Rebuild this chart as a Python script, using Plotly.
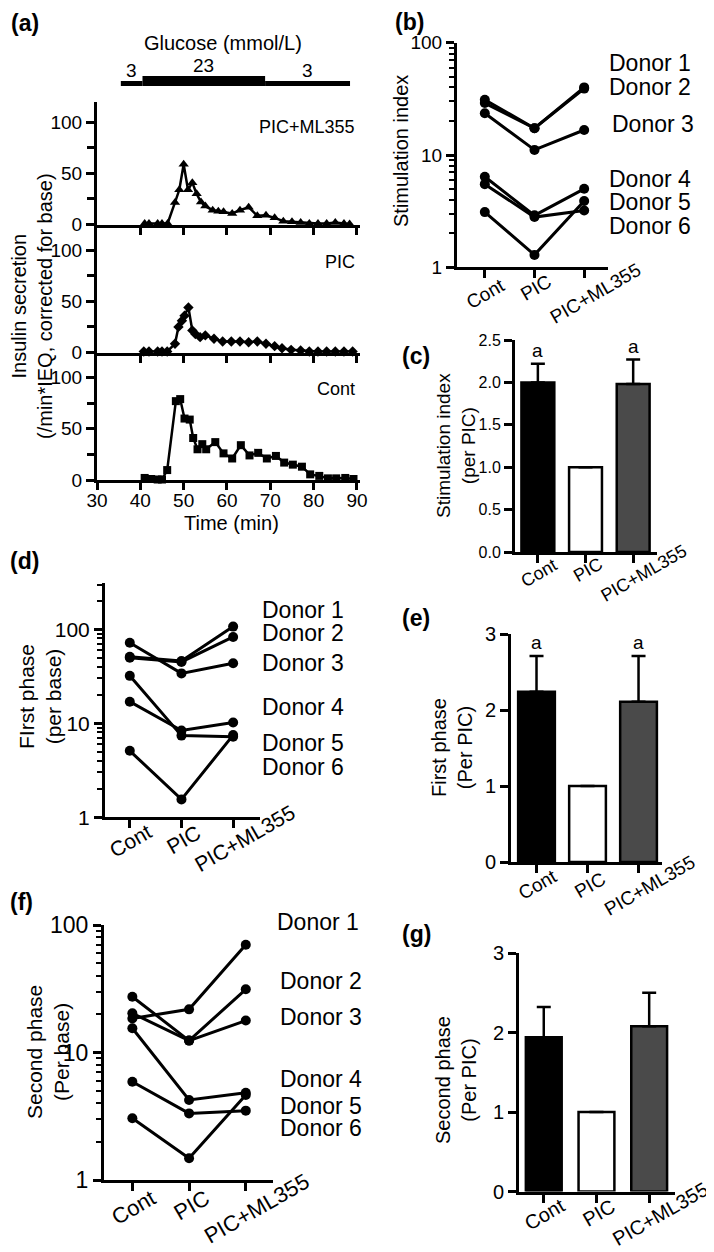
import plotly.graph_objects as go

W, H = 714, 1252
OFF = 8  # the page body keeps an 8px margin, so the figure is drawn 8px smaller
FW, FH = W - OFF, H - OFF
FONT = "Arial, 'Liberation Sans', Helvetica, sans-serif"

# ---- (a) perifusion time courses (insulin secretion, corrected for base)
time_ml355 = [41, 42, 44, 45, 46.3, 48, 49, 50, 51, 52, 53, 54, 55, 56.7, 58, 59.2, 61.2, 63, 65,
              67, 69, 71, 73, 75, 77, 79, 81, 83, 85, 87, 88.3]
ins_ml355 = [1, 1, 1, 1, 1, 21.6, 34, 59, 34, 41, 30, 22, 18, 14, 13, 12.4, 10.8, 14, 17,
             8.5, 9, 6.5, 3.3, 2.6, 2, 1, 1, 1, 2, 1, 0.5]
time_pic = [40.8, 42, 44, 45, 46.2, 48, 48.8, 49.6, 50.2, 51.1, 52, 52.7, 53.8, 55, 57, 59, 61, 63,
            65, 67, 69, 71, 72.7, 74.8, 77, 79, 81, 83, 85, 87, 89]
ins_pic = [1, 1, 1, 1, 1, 8.5, 25, 31, 36, 44, 21.6, 18, 15, 16.7, 13.4, 10.8, 10.8, 10.8,
           10, 10.8, 8.5, 6.2, 4.2, 2.6, 2, 1, 1, 1, 1, 1, 1]
time_cont = [41, 42.5, 44, 45, 46.2, 48.2, 49.2, 50.2, 51.4, 52.2, 53.2, 54.3, 55.2, 57.3, 59.2,
             61.2, 63.2, 65.2, 67.2, 69.2, 71.3, 73.2, 75.2, 77.3, 79.2, 81.3, 83.3, 85.2, 87.3, 89.2]
ins_cont = [2, 1, 0.5, 0.5, 9.7, 77, 79, 60, 59, 41, 30, 35, 30, 37, 26,
            21, 34, 24, 26.5, 21, 23.5, 17, 15, 13, 5.5, 4, 1.6, 1.6, 2, 1]
time_ticks = [30, 40, 50, 60, 70, 80, 90]
ins_ticks = [0, 50, 100]

glucose_start = [35.5, 40.5, 68.8]
glucose_end = [40.5, 68.8, 88.4]
glucose_level = [3, 23, 3]

# ---- (b)-(g) donor data
groups = ["Cont", "PIC", "PIC+ML355"]
donors = ["Donor 1", "Donor 2", "Donor 3", "Donor 4", "Donor 5", "Donor 6"]

stim_index = [[31, 17.3, 40], [29, 17.3, 39], [23.5, 11.1, 16.7],
              [6.4, 2.9, 5.0], [5.5, 2.8, 3.2], [3.1, 1.29, 3.9]]
stim_rel = [2.0, 1.0, 1.98]
stim_rel_err = [0.22, 0, 0.29]
stim_sig = ["a", "", "a"]

first_phase = [[51, 46, 107], [50, 45, 83], [72, 34, 43.5],
               [17, 8.4, 10.2], [32, 7.4, 7.2], [5.1, 1.55, 7.5]]
first_rel = [2.24, 1.0, 2.11]
first_rel_err = [0.47, 0, 0.60]
first_sig = ["a", "", "a"]

second_phase = [[18.5, 21.8, 70], [27.4, 12.4, 31.3], [20.3, 12.4, 17.8],
                [15.5, 4.24, 4.84], [5.9, 3.33, 3.5], [3.05, 1.48, 4.64]]
second_rel = [1.94, 1.0, 2.08]
second_rel_err = [0.38, 0, 0.42]

log_major = [1, 10, 100]
log_minor = [2, 3, 4, 5, 6, 7, 8, 9, 20, 30, 40, 50, 60, 70, 80, 90, 200, 300]


def fx(p):
    return (p - OFF) / FW


def fy(p):
    return 1 - (p - OFF) / FH


def xa(k):
    return "x" if k == 1 else f"x{k}"


def ya(k):
    return "y" if k == 1 else f"y{k}"


def axis(size, **kw):
    a = dict(showline=True, linecolor="black", linewidth=3, ticks="outside", ticklen=8,
             tickwidth=2.5, tickcolor="black", showgrid=False, zeroline=False, automargin=False,
             tickfont=dict(size=size, color="black", family=FONT), fixedrange=True)
    a.update(kw)
    return a


fig = go.Figure()
layout = {}
ann = []
shapes = []


def text(x, y, s, size, **kw):
    d = dict(x=fx(x), y=fy(y), xref="paper", yref="paper", text=s, showarrow=False,
             font=dict(size=size, color="black", family=FONT), xanchor="center", yanchor="middle")
    d.update(kw)
    ann.append(d)


# ---------------- (a)
a_panels = [(1, time_ml355, ins_ml355, "triangle-up", 9, 102, 224.5, 120, "PIC+ML355", 127),
            (2, time_pic, ins_pic, "diamond", 8, 224.5, 352.5, 125, "PIC", 262),
            (3, time_cont, ins_cont, "square", 8, 352.5, 480, 124.5, "Cont", 389)]
for k, t, v, sym, msize, top, bot, ymax, name, ly in a_panels:
    fig.add_trace(go.Scatter(x=t, y=v, mode="lines+markers", line=dict(color="black", width=2.5),
                             marker=dict(symbol=sym, size=msize, color="black"),
                             xaxis=xa(k), yaxis=ya(k), cliponaxis=False, hoverinfo="skip"))
    last = k == 3
    layout["xaxis" if k == 1 else f"xaxis{k}"] = axis(
        19, domain=[fx(97), fx(360)], range=[30, 90.7], anchor=ya(k), ticklen=7,
        ticklabelstandoff=-6,
        tickvals=time_ticks if last else time_ticks[1:], showticklabels=last)
    layout["yaxis" if k == 1 else f"yaxis{k}"] = axis(
        19, domain=[fy(bot), fy(top)], range=[0, ymax], anchor=xa(k), tickvals=ins_ticks,
        minor=dict(tickvals=[25, 75], ticks="outside", ticklen=7, tickwidth=2.5, tickcolor="black"))
    text(357, ly, name, 18, xanchor="right")

for s, e, lev in zip(glucose_start, glucose_end, glucose_level):
    top = 81 if lev < 10 else 76
    shapes.append(dict(type="rect", xref="x", yref="paper", x0=s, x1=e, y0=fy(86), y1=fy(top),
                       fillcolor="black", line=dict(width=0)))
    ann.append(dict(x=(s + e) / 2, y=fy(top - 10), xref="x", yref="paper", text=str(lev),
                    showarrow=False, font=dict(size=19, color="black", family=FONT),
                    xanchor="center", yanchor="middle"))
text(223, 43, "Glucose (mmol/L)", 20)
text(231, 523, "Time (min)", 20)
text(32, 306, "Insulin secretion<br>(/min*IEQ, corrected for base)", 20, textangle=-90)


# ---------------- donor line panels (b), (d), (f)
def cat_labels(k, size, dy):
    for i, g in enumerate(groups):
        ann.append(dict(x=i, y=0, xref=xa(k), yref=f"y{k} domain", text=g, showarrow=False,
                        textangle=-30, xshift=[1, 2, 11][i], yshift=-dy[i],
                        font=dict(size=size, color="black", family=FONT),
                        xanchor="center", yanchor="middle"))


def donor_panel(k, data, xd, yd, yrange, tsize, csize, label_x, label_ys, dy):
    for vals in data:
        fig.add_trace(go.Scatter(x=[0, 1, 2], y=vals, mode="lines+markers",
                                 line=dict(color="black", width=3),
                                 marker=dict(size=10, color="black"),
                                 xaxis=xa(k), yaxis=ya(k), cliponaxis=False, hoverinfo="skip"))
    layout[f"xaxis{k}"] = axis(tsize, domain=[fx(xd[0]), fx(xd[1])], range=xd[2], anchor=ya(k),
                               tickvals=[0, 1, 2], showticklabels=False)
    layout[f"yaxis{k}"] = axis(tsize, domain=[fy(yd[1]), fy(yd[0])], type="log", range=yrange,
                               anchor=xa(k), tickvals=log_major, ticktext=[str(v) for v in log_major],
                               minor=dict(tickvals=log_minor, ticks="outside", ticklen=5,
                                          tickwidth=2, tickcolor="black"))
    for name, lx, ly in zip(donors, label_x, label_ys):
        text(lx, ly, name, 23, xanchor="left")
    cat_labels(k, csize, dy)


def bar_panel(k, means, errs, sig, xd, yd, ymax, tsize, csize, dy, width):
    fig.add_trace(go.Bar(x=[0, 1, 2], y=means, width=width,
                         marker=dict(color=["black", "white", "#4a4a4a"],
                                     line=dict(color="black", width=2.5)),
                         error_y=dict(type="data", array=errs, arrayminus=[0, 0, 0], symmetric=False,
                                      color="black", thickness=2.5, width=7),
                         xaxis=xa(k), yaxis=ya(k), hoverinfo="skip"))
    layout[f"xaxis{k}"] = axis(tsize, domain=[fx(xd[0]), fx(xd[1])], range=xd[2], anchor=ya(k),
                               tickvals=[0, 1, 2], showticklabels=False)
    layout[f"yaxis{k}"] = axis(tsize, domain=[fy(yd[1]), fy(yd[0])], range=[0, ymax], anchor=xa(k))
    if sig:
        for i, s in enumerate(sig):
            if s:
                ann.append(dict(x=i, y=means[i] + errs[i], xref=xa(k), yref=ya(k), text=s,
                                showarrow=False, yanchor="bottom", yshift=1,
                                font=dict(size=19, color="black", family=FONT)))
    cat_labels(k, csize, dy)


donor_panel(4, stim_index, (457, 608, [-0.56, 2.48]), (42.7, 267.3), [0, 2], 19, 19,
            [607, 607, 610, 607, 607, 607], [63, 87, 124, 179, 202, 226], [26, 20, 26])
bar_panel(5, stim_rel, stim_rel_err, stim_sig, (515, 657, [-0.48, 2.5]), (340, 552), 2.5, 16, 18,
          [21, 18, 21], 0.69)
layout["yaxis5"]["tickvals"] = [0, 0.5, 1.0, 1.5, 2.0, 2.5]
layout["yaxis5"]["tickformat"] = ".1f"
donor_panel(6, first_phase, (105, 260, [-0.48, 2.52]), (583.3, 817.3), [0, 2.49], 21, 21,
            [260] * 6, [610, 633, 663, 707, 743, 767], [23, 22, 21])
bar_panel(7, first_rel, first_rel_err, first_sig, (511, 662, [-0.5, 2.46]), (634, 862), 3, 20, 19,
          [22, 23, 23], 0.72)
layout["yaxis7"]["tickvals"] = [0, 1, 2, 3]
donor_panel(8, second_phase, (104, 273, [-0.5, 2.48]), (925, 1180), [0, 2], 23, 22,
            [275, 278, 278, 278, 278, 278], [922, 981, 1017, 1079, 1106, 1128], [27, 25, 28])
bar_panel(9, second_rel, second_rel_err, None, (519, 675, [-0.47, 2.49]), (953, 1191.5), 3, 20, 20,
          [22, 21, 22], 0.68)
layout["yaxis9"]["tickvals"] = [0, 1, 2, 3]

# axis titles
text(401, 151, "Stimulation index", 20, textangle=-90)
text(456, 446, "Stimulation index<br>(per PIC)", 19, textangle=-90)
text(40, 697, "FIrst phase<br>(per base)", 21, textangle=-90)
text(452, 748, "First phase<br>(Per PIC)", 20, textangle=-90)
text(48, 1052, "Second phase<br>(Per base)", 21, textangle=-90)
text(456, 1080, "Second phase<br>(Per PIC)", 20, textangle=-90)

# panel letters
for lbl, x, y in [("(a)", 25, 23), ("(b)", 409, 22), ("(c)", 416, 356), ("(d)", 24, 561),
                  ("(e)", 416, 618), ("(f)", 21, 902), ("(g)", 417, 934)]:
    text(x, y, f"<b>{lbl}</b>", 23)

fig.update_layout(width=FW, height=FH, autosize=False,
                  margin=dict(l=0, r=0, t=0, b=0, pad=0, autoexpand=False),
                  paper_bgcolor="white", plot_bgcolor="white", showlegend=False,
                  font=dict(family=FONT, color="black"), annotations=ann, shapes=shapes,
                  bargap=0.3, **layout)
fig.write_html("out.html")
